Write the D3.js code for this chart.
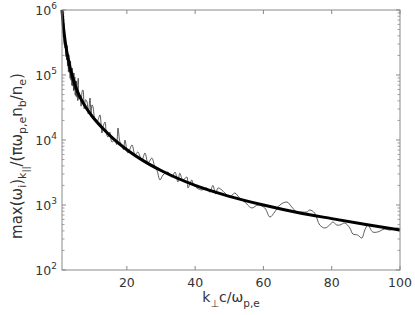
<!DOCTYPE html>
<html><head><meta charset="utf-8">
<script src="https://cdn.jsdelivr.net/npm/d3@7"></script>
<style>body{margin:0;background:#fff}svg{display:block}text{font-family:"DejaVu Sans",sans-serif}</style>
</head><body><svg id="c" width="415" height="315"></svg>
<script>
// smooth fit curve
const smoothK = [1, 1.5, 2, 3, 4, 5, 6, 8, 10, 13, 16, 20, 25, 30, 40, 50, 60, 70, 80, 90, 100];
const smoothV = [1e6, 5.01e5, 3.09e5, 1.58e5, 9.66e4, 6.61e4, 4.9e4, 3.16e4, 2.26e4, 1.5e4, 1.05e4, 7080, 4730, 3390, 2000, 1360, 1000, 767, 617, 501, 412];
// noisy computed curve
const noisyK = [1, 1.125, 1.25, 1.375, 1.5, 1.625, 1.75, 1.875, 2, 2.125, 2.25, 2.375, 2.5, 2.625, 2.75, 2.875,
  3, 3.125, 3.25, 3.375, 3.5, 3.625, 3.75, 3.875, 4, 4.125, 4.25, 4.375, 4.5, 4.625, 4.75, 4.875,
  5, 5.125, 5.25, 5.375, 5.5, 5.625, 5.75, 5.9,
  6.27, 6.6, 6.9, 7.15, 7.5, 7.9, 8.32, 8.7, 9.2, 9.5, 9.78, 10.07, 10.66, 11.24, 11.7, 12.12, 12.7, 13, 13.6, 14, 14.46, 15, 15.63,
  16.5, 17, 17.4, 17.98, 18.56, 19, 19.44, 20.3, 21.5, 22.4, 23.2, 24.4, 25.3, 26.2, 27.3, 28.2, 28.8, 29.7, 30.6, 32, 33.2, 34.1,
  34.95, 35.5, 36.4, 37.6, 37.9, 39, 39.3, 40.5, 42, 43.4, 44.3, 45.2, 46, 46.7, 47.8, 48.7, 50.2, 51.6, 53.1, 54.6, 55.4, 56.6,
  58.4, 60.4, 61.9, 63.3, 64.8, 66.9, 68.3, 69.8, 71.2, 72.7, 73.6, 75, 76.5, 78, 79.4, 80.3, 81.5, 82.4, 83.8, 85.3, 86.2, 87.6,
  88.8, 89.7, 90.6, 92, 93.5, 95.5, 97, 99.3, 100];
const noisyV = [1e6, 6.5e5, 8.04e5, 4.22e5, 6.31e5, 3.1e5, 4.75e5, 2.61e5, 4.06e5, 1.92e5, 3.03e5, 1.7e5, 2.84e5, 1.37e5, 2.1e5, 1.12e5,
  2.04e5, 1.09e5, 1.7e5, 8.91e4, 1.64e5, 8.3e4, 1.27e5, 6.92e4, 1.28e5, 6.82e4, 1.08e5, 5.75e4, 1.07e5, 5.87e4, 9.33e4, 4.9e4,
  8.17e4, 4.71e4, 8.05e4, 4.55e4, 6.32e4, 4.03e4, 8.89e4, 4.27e4,
  4.57e4, 3.31e4, 5.62e4, 5.89e4, 3.02e4, 4.17e4, 3.85e4, 2.51e4, 4.43e4, 2.29e4, 3.47e4, 3.24e4, 2.03e4, 1.89e4, 2.14e4, 2.43e4, 1.28e4, 1.58e4, 1.89e4, 1.26e4, 1.11e4, 1.32e4, 9310,
  1e4, 8510, 1.53e4, 9310, 8380, 7080, 1e4, 6310, 8380, 5890, 6530, 4920, 6310, 4430, 5280, 3850, 3450, 2430, 2900, 3220, 2690, 3220,
  2260, 3090, 2430, 2690, 1830, 2430, 2180, 1830, 1700, 1830, 1580, 2000, 1480, 1830, 1700, 1530, 1330, 1530, 1260, 1110, 1000, 899,
  1000, 899, 653, 780, 1000, 1110, 931, 780, 780, 780, 838, 753, 492, 443, 492, 547, 492, 492, 528, 443, 358, 345,
  310, 412, 492, 385, 385, 427, 412, 443, 427];
const xTicks = [20, 40, 60, 80, 100];
const yTickExp = [2, 3, 4, 5, 6];

const svg = d3.select("#c");
const L = 62, R = 400, T = 10, B = 270;
const x = d3.scaleLinear().domain([1, 100]).range([L, R]);
const y = d3.scaleLog().domain([100, 1e6]).range([B, T]);
const boxCol = "#8a8a8a", txtCol = "#333";

// minor ticks y (log)
const minor = [];
for (let e = 2; e < 6; e++) for (let m = 2; m <= 9; m++) minor.push(m * Math.pow(10, e));
const g = svg.append("g");
minor.forEach(v => {
  g.append("line").attr("x1", L).attr("x2", L + 2.5).attr("y1", y(v)).attr("y2", y(v)).attr("stroke", boxCol).attr("stroke-width", 0.8);
  g.append("line").attr("x1", R).attr("x2", R - 2.5).attr("y1", y(v)).attr("y2", y(v)).attr("stroke", boxCol).attr("stroke-width", 0.8);
});
yTickExp.forEach(e => {
  const v = Math.pow(10, e);
  g.append("line").attr("x1", L).attr("x2", L + 4).attr("y1", y(v)).attr("y2", y(v)).attr("stroke", boxCol);
  g.append("line").attr("x1", R).attr("x2", R - 4).attr("y1", y(v)).attr("y2", y(v)).attr("stroke", boxCol);
  const t = svg.append("text").attr("x", 57).attr("y", y(v) + 5).attr("text-anchor", "end").attr("fill", txtCol).attr("font-size", 12.5);
  t.append("tspan").text("10");
  t.append("tspan").attr("dy", -6).attr("font-size", 9).text(e);
});
xTicks.forEach(v => {
  g.append("line").attr("x1", x(v)).attr("x2", x(v)).attr("y1", B).attr("y2", B - 4).attr("stroke", boxCol);
  g.append("line").attr("x1", x(v)).attr("x2", x(v)).attr("y1", T).attr("y2", T + 4).attr("stroke", boxCol);
  svg.append("text").attr("x", x(v)).attr("y", B + 17).attr("text-anchor", "middle").attr("fill", txtCol).attr("font-size", 12.5).text(v);
});

// data lines
const noisy = noisyK.map((k, i) => [k, noisyV[i]]);
const smooth = smoothK.map((k, i) => [k, smoothV[i]]);
svg.append("path").datum(noisy)
  .attr("d", d3.line().x(d => x(d[0])).y(d => y(d[1])).curve(d3.curveCatmullRom.alpha(0.5)))
  .attr("fill", "none").attr("stroke", "#333").attr("stroke-width", 0.8);
svg.append("path").datum(smooth)
  .attr("d", d3.line().x(d => x(d[0])).y(d => y(d[1])).curve(d3.curveMonotoneX))
  .attr("fill", "none").attr("stroke", "#000").attr("stroke-width", 3);

// box
svg.append("rect").attr("x", L).attr("y", T).attr("width", R - L).attr("height", B - T)
  .attr("fill", "none").attr("stroke", boxCol).attr("stroke-width", 1);

// x label
const xl = svg.append("text").attr("x", 231).attr("y", 302).attr("text-anchor", "middle").attr("fill", txtCol).attr("font-size", 14);
xl.append("tspan").text("k");
xl.append("tspan").attr("dy", 5).attr("font-size", 10).text("\u22A5");
xl.append("tspan").attr("dy", -5).text("c/\u03C9");
xl.append("tspan").attr("dy", 5).attr("font-size", 10.5).text("p,e");

// y label
const yl = svg.append("text").attr("transform", "translate(22,156) rotate(-90)").attr("text-anchor", "middle").attr("fill", txtCol).attr("font-size", 15);
yl.append("tspan").text("max(\u03C9");
yl.append("tspan").attr("dy", 4).attr("font-size", 11).text("i");
yl.append("tspan").attr("dy", -4).text(")");
yl.append("tspan").attr("dy", 4).attr("font-size", 11).text("k");
yl.append("tspan").attr("dy", 3).attr("font-size", 9).text("||");
yl.append("tspan").attr("dy", -7).text("/(\u03C0\u03C9");
yl.append("tspan").attr("dy", 4).attr("font-size", 11).text("p,e");
yl.append("tspan").attr("dy", -4).text("n");
yl.append("tspan").attr("dy", 4).attr("font-size", 11).text("b");
yl.append("tspan").attr("dy", -4).text("/n");
yl.append("tspan").attr("dy", 4).attr("font-size", 11).text("e");
yl.append("tspan").attr("dy", -4).text(")");
</script></body></html>
